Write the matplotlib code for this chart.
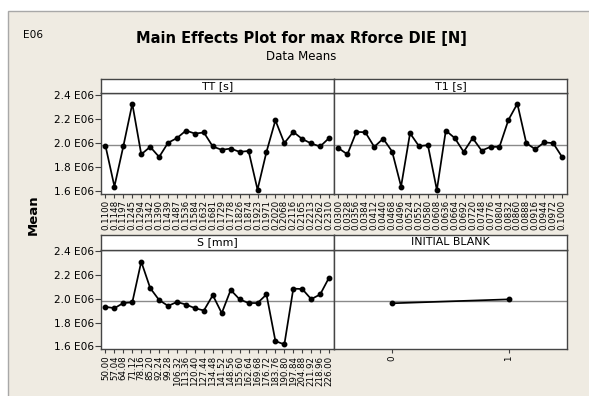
import matplotlib.pyplot as plt
from matplotlib.patches import Rectangle
import numpy as np

# data (means in units of E06)

tt_levels = ['0.1100', '0.1148', '0.1197', '0.1245', '0.1294', '0.1342', '0.1390',
             '0.1439', '0.1487', '0.1536', '0.1584', '0.1632', '0.1681', '0.1729',
             '0.1778', '0.1826', '0.1874', '0.1923', '0.1971', '0.2020', '0.2068',
             '0.2116', '0.2165', '0.2213', '0.2262', '0.2310']
tt_means = [1.975, 1.637, 1.972, 2.324, 1.904, 1.966, 1.882, 2.000, 2.039, 2.101,
            2.076, 2.085, 1.969, 1.941, 1.952, 1.924, 1.932, 1.611, 1.924, 2.186,
            1.997, 2.090, 2.031, 1.994, 1.969, 2.039]

t1_levels = ['0.0300', '0.0328', '0.0356', '0.0384', '0.0412', '0.0440', '0.0468',
             '0.0496', '0.0524', '0.0552', '0.0580', '0.0608', '0.0636', '0.0664',
             '0.0692', '0.0720', '0.0748', '0.0776', '0.0804', '0.0832', '0.0860',
             '0.0888', '0.0916', '0.0944', '0.0972', '0.1000']
t1_means = [1.955, 1.904, 2.090, 2.087, 1.966, 2.034, 1.927, 1.637, 2.079, 1.972,
            1.980, 1.608, 2.101, 2.039, 1.924, 2.039, 1.935, 1.966, 1.966, 2.189,
            2.324, 1.997, 1.946, 2.003, 1.997, 1.882]

s_levels = ['50.00', '57.04', '64.08', '71.12', '78.16', '85.20', '92.24', '99.28',
            '106.32', '113.36', '120.40', '127.44', '134.48', '141.52', '148.56',
            '155.60', '162.64', '169.68', '176.72', '183.76', '190.80', '197.84',
            '204.88', '211.92', '218.96', '226.00']
s_means = [1.932, 1.921, 1.964, 1.970, 2.312, 2.090, 1.989, 1.940, 1.973, 1.951,
           1.921, 1.901, 2.030, 1.879, 2.074, 1.995, 1.964, 1.964, 2.036, 1.644,
           1.616, 2.085, 2.082, 1.997, 2.036, 2.178]

blank_levels = ['0', '1']
blank_means = [1.962, 1.995]

grand_mean = 1.978
y_ticks = [1.6, 1.8, 2.0, 2.2, 2.4]

W, H = 589, 396
BG = '#EFEBE2'

plt.rcParams['font.family'] = 'DejaVu Sans'

fig = plt.figure(figsize=(W / 100, H / 100), dpi=100, facecolor='white')


def px_box(x0, y0, x1, y1):
    # pixel box measured from top-left -> figure fraction rect
    return [x0 / W, 1 - y1 / H, (x1 - x0) / W, (y1 - y0) / H]


def drawPanel(box, strip_y, title, labels, means, show_y, xlim):
    x0, y0, x1, y1 = box
    ax = fig.add_axes(px_box(x0, y0, x1, y1))
    x = np.arange(len(labels))
    ax.axhline(grand_mean, color='#8a8a8a', lw=1, zorder=1)
    ax.plot(x, means, color='black', lw=1.25, marker='o', ms=3.2, zorder=3)
    ax.set_ylim(1.575, 2.41)
    ax.set_xlim(*xlim)
    ax.set_xticks(x)
    ax.set_xticklabels(labels, rotation=90, fontsize=6.2)
    ax.tick_params(axis='x', length=3, width=0.8, pad=1.5, color='#404040')
    if show_y:
        ax.set_yticks(y_ticks)
        ax.set_yticklabels(['%.1f E06' % v for v in y_ticks], fontsize=7.6)
        ax.tick_params(axis='y', length=4, width=0.8, pad=1, color='#404040')
    else:
        ax.set_yticks([])
    for sp in ax.spines.values():
        sp.set_color('#454545')
        sp.set_linewidth(1)

    # strip with the factor name
    st = fig.add_axes(px_box(x0, strip_y, x1, y0))
    st.set_xticks([])
    st.set_yticks([])
    st.set_facecolor('white')
    for sp in st.spines.values():
        sp.set_color('#454545')
        sp.set_linewidth(1)
    st.text(0.5, 0.5, title, ha='center', va='center', fontsize=7.9,
            transform=st.transAxes)
    return ax


# beige background with thin border
bg = Rectangle((8 / W, -0.01), 1, 1 - 11 / H + 0.01,
               transform=fig.transFigure, facecolor=BG,
               edgecolor='#a8a8a8', lw=1, zorder=-10)
fig.patches.append(bg)

xl = (-0.5, 25.55)
drawPanel((101, 93.3, 334, 194), 78.7, 'TT [s]', tt_levels, tt_means, True, xl)
drawPanel((334, 93.3, 567, 194), 78.7, 'T1 [s]', t1_levels, t1_means, False, xl)
drawPanel((101, 250, 334, 349.3), 235, 'S [mm]', s_levels, s_means, True, xl)
drawPanel((334, 250, 567, 349.3), 235, 'INITIAL BLANK', blank_levels, blank_means,
          False, (-0.5, 1.5))

fig.text(301 / W, 1 - 39 / H, 'Main Effects Plot for max Rforce DIE [N]',
         ha='center', va='center', fontsize=10.5, fontweight='bold')
fig.text(301 / W, 1 - 57 / H, 'Data Means', ha='center', va='center', fontsize=8.5)
fig.text(22.5 / W, 1 - 35 / H, 'E06', ha='left', va='center', fontsize=7.6)
fig.text(33 / W, 1 - 215 / H, 'Mean', ha='center', va='center', fontsize=9.5,
         fontweight='bold', rotation=90)

fig.savefig('out.png', dpi=100, facecolor='white')
